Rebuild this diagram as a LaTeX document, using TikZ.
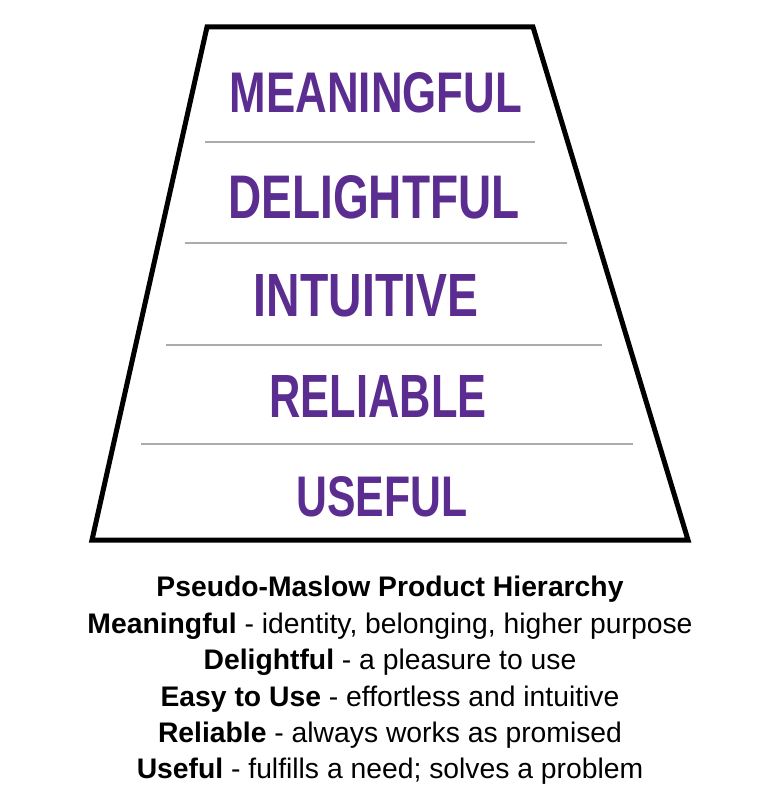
\documentclass[tikz,border=0pt]{standalone}
\usepackage{fontspec}
\setmainfont{Liberation Sans}
\usepackage{graphicx}
\definecolor{hand}{RGB}{92,45,145}
\definecolor{rule}{RGB}{172,172,172}
\tikzset{
  frame/.style={draw=black,line width=5pt,line join=miter},
  divider/.style={draw=rule,line width=2pt},
  level/.style={text=hand,inner sep=0pt,font=\bfseries},
  capline/.style={anchor=base,inner sep=0pt,font=\fontsize{28.3}{30}\selectfont}
}
\newcommand{\hw}[3]{\resizebox{#1pt}{#2pt}{#3}}
\begin{document}
\begin{tikzpicture}[x=1pt,y=-1pt]
\useasboundingbox (0,0) rectangle (764,810);
\coordinate (tl) at (207,27);
\coordinate (tr) at (533,27);
\coordinate (br) at (688,540);
\coordinate (bl) at (92,540);
\draw[frame] (tl) -- (tr) -- (br) -- (bl) -- cycle;
\draw[divider] (205,142) -- (535,142);
\draw[divider] (185,243) -- (567,243);
\draw[divider] (166,345) -- (602,345);
\draw[divider] (141,444) -- (633,444);
\node[level] (meaningful) at (376,93) {\hw{292}{40}{MEANINGFUL}};
\node[level] (delightful) at (374,197) {\hw{291}{43}{DELIGHTFUL}};
\node[level] (intuitive) at (366,296) {\hw{224}{42}{INTUITIVE}};
\node[level] (reliable) at (378,396) {\hw{217}{42}{RELIABLE}};
\node[level] (useful) at (382,497) {\hw{171}{40}{USEFUL}};
\node[capline] (title) at (390,596) {\textbf{Pseudo-Maslow Product Hierarchy}};
\node[capline] (l1) at (390,633) {\textbf{Meaningful} - identity, belonging, higher purpose};
\node[capline] (l2) at (390,669) {\textbf{Delightful} - a pleasure to use};
\node[capline] (l3) at (390,706) {\textbf{Easy to Use} - effortless and intuitive};
\node[capline] (l4) at (390,742) {\textbf{Reliable} - always works as promised};
\node[capline] (l5) at (390,778) {\textbf{Useful} - fulfills a need; solves a problem};
\end{tikzpicture}
\end{document}
